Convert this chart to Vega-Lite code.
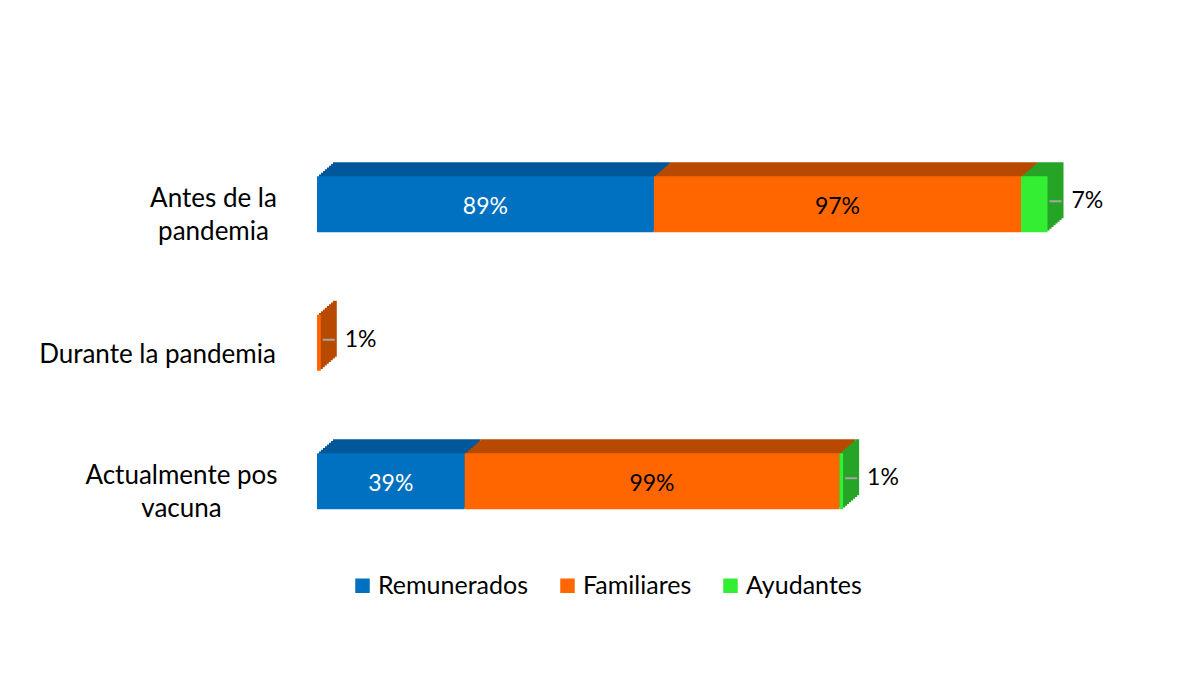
{
  "$schema": "https://vega.github.io/schema/vega-lite/v6.json",
  "autosize": {"type": "none"},
  "padding": {"left": 317, "top": 135, "right": 109, "bottom": 130},
  "width": 757,
  "height": 415.5,
  "background": "white",
  "config": {
    "view": {"stroke": null},
    "font": "Lato",
    "text": {"font": "Lato"}
  },
  "data": {
    "values": [
      {"categoria": "Antes de la pandemia", "tipo": "Remunerados", "orden": 1, "valor": 0.89},
      {"categoria": "Antes de la pandemia", "tipo": "Familiares", "orden": 2, "valor": 0.97},
      {"categoria": "Antes de la pandemia", "tipo": "Ayudantes", "orden": 3, "valor": 0.07},
      {"categoria": "Durante la pandemia", "tipo": "Familiares", "orden": 2, "valor": 0.01},
      {"categoria": "Actualmente pos vacuna", "tipo": "Remunerados", "orden": 1, "valor": 0.39},
      {"categoria": "Actualmente pos vacuna", "tipo": "Familiares", "orden": 2, "valor": 0.99},
      {"categoria": "Actualmente pos vacuna", "tipo": "Ayudantes", "orden": 3, "valor": 0.01}
    ]
  },
  "encoding": {
    "y": {
      "field": "categoria",
      "type": "nominal",
      "sort": ["Antes de la pandemia", "Durante la pandemia", "Actualmente pos vacuna"],
      "scale": {"paddingInner": 0.5957, "paddingOuter": 0.2979},
      "axis": {
        "title": null,
        "domain": false,
        "ticks": false,
        "labelAlign": "center",
        "labelPadding": {"condition": [{"test": "datum.value == 'Durante la pandemia'", "value": 160}, {"test": "datum.value == 'Antes de la pandemia'", "value": 104}], "value": 136},
        "labelFontSize": 26,
        "labelColor": "#000000",
        "labelFont": "Lato",
        "labelLineHeight": 33,
        "labelOffset": {"condition": {"test": "datum.value == 'Durante la pandemia'", "value": 12}, "value": -5},
        "labelLimit": 400,
        "labelExpr": "datum.value == 'Antes de la pandemia' ? ['Antes de la', 'pandemia'] : datum.value == 'Actualmente pos vacuna' ? ['Actualmente pos', 'vacuna'] : datum.value"
      }
    }
  },
  "layer": [
    {
      "mark": {"type": "bar", "xOffset": 16, "yOffset": -14},
      "encoding": {
        "x": {"field": "valor", "type": "quantitative", "stack": "zero", "scale": {"domain": [0, 2], "nice": false}, "axis": null},
        "fill": {"field": "tipo", "type": "nominal", "scale": {"domain": ["Ayudantes", "Familiares", "Remunerados"], "range": ["#26A426", "#B84A00", "#00589A"]}, "legend": null},
        "order": {"field": "orden"}
      }
    },
    {
      "mark": {"type": "bar", "xOffset": 14, "yOffset": -12.25},
      "encoding": {
        "x": {"field": "valor", "type": "quantitative", "stack": "zero"},
        "fill": {"field": "tipo", "type": "nominal", "legend": null},
        "order": {"field": "orden"}
      }
    },
    {
      "mark": {"type": "bar", "xOffset": 12, "yOffset": -10.5},
      "encoding": {
        "x": {"field": "valor", "type": "quantitative", "stack": "zero"},
        "fill": {"field": "tipo", "type": "nominal", "legend": null},
        "order": {"field": "orden"}
      }
    },
    {
      "mark": {"type": "bar", "xOffset": 10, "yOffset": -8.75},
      "encoding": {
        "x": {"field": "valor", "type": "quantitative", "stack": "zero"},
        "fill": {"field": "tipo", "type": "nominal", "legend": null},
        "order": {"field": "orden"}
      }
    },
    {
      "mark": {"type": "bar", "xOffset": 8, "yOffset": -7},
      "encoding": {
        "x": {"field": "valor", "type": "quantitative", "stack": "zero"},
        "fill": {"field": "tipo", "type": "nominal", "legend": null},
        "order": {"field": "orden"}
      }
    },
    {
      "mark": {"type": "bar", "xOffset": 6, "yOffset": -5.25},
      "encoding": {
        "x": {"field": "valor", "type": "quantitative", "stack": "zero"},
        "fill": {"field": "tipo", "type": "nominal", "legend": null},
        "order": {"field": "orden"}
      }
    },
    {
      "mark": {"type": "bar", "xOffset": 4, "yOffset": -3.5},
      "encoding": {
        "x": {"field": "valor", "type": "quantitative", "stack": "zero"},
        "fill": {"field": "tipo", "type": "nominal", "legend": null},
        "order": {"field": "orden"}
      }
    },
    {
      "mark": {"type": "bar", "xOffset": 2, "yOffset": -1.75},
      "encoding": {
        "x": {"field": "valor", "type": "quantitative", "stack": "zero"},
        "fill": {"field": "tipo", "type": "nominal", "legend": null},
        "order": {"field": "orden"}
      }
    },
    {
      "mark": {"type": "bar"},
      "encoding": {
        "x": {"field": "valor", "type": "quantitative", "stack": "zero"},
        "color": {
          "field": "tipo",
          "type": "nominal",
          "scale": {"domain": ["Remunerados", "Familiares", "Ayudantes"], "range": ["#0070C0", "#FF6600", "#33EE33"]},
          "legend": {
            "title": null,
            "orient": "none",
            "legendX": 33,
            "legendY": 438,
            "direction": "horizontal",
            "symbolType": "square",
            "symbolSize": 210,
            "symbolStrokeWidth": 0,
            "labelFontSize": 25,
            "labelFont": "Lato",
            "labelColor": "#000000",
            "labelOffset": 3,
            "columnPadding": 26
          }
        },
        "order": {"field": "orden"}
      }
    },
    {
      "transform": [{"filter": "datum.valor >= 0.1"}],
      "mark": {"type": "text", "fontSize": 23, "dy": 3},
      "encoding": {
        "x": {"field": "valor", "type": "quantitative", "stack": "zero", "bandPosition": 0.5},
        "text": {"field": "valor", "type": "quantitative", "format": ".0%"},
        "fill": {"condition": {"test": "datum.tipo == 'Remunerados'", "value": "#FFFFFF"}, "value": "#000000"},
        "order": {"field": "orden"}
      }
    },
    {
      "transform": [
        {"stack": "valor", "groupby": ["categoria"], "sort": [{"field": "orden", "order": "ascending"}], "as": ["ini", "fin"]},
        {"filter": "datum.valor < 0.1"}
      ],
      "mark": {"type": "rule", "xOffset": 2, "x2Offset": 14, "yOffset": -3, "stroke": "#A6A6A6", "strokeWidth": 2},
      "encoding": {
        "x": {"field": "fin", "type": "quantitative"},
        "x2": {"field": "fin"}
      }
    },
    {
      "transform": [
        {"stack": "valor", "groupby": ["categoria"], "sort": [{"field": "orden", "order": "ascending"}], "as": ["ini", "fin"]},
        {"filter": "datum.valor < 0.1"}
      ],
      "mark": {"type": "text", "fontSize": 23, "align": "left", "dx": 24, "dy": -3, "fill": "#000000"},
      "encoding": {
        "x": {"field": "fin", "type": "quantitative"},
        "text": {"field": "valor", "type": "quantitative", "format": ".0%"}
      }
    }
  ]
}
